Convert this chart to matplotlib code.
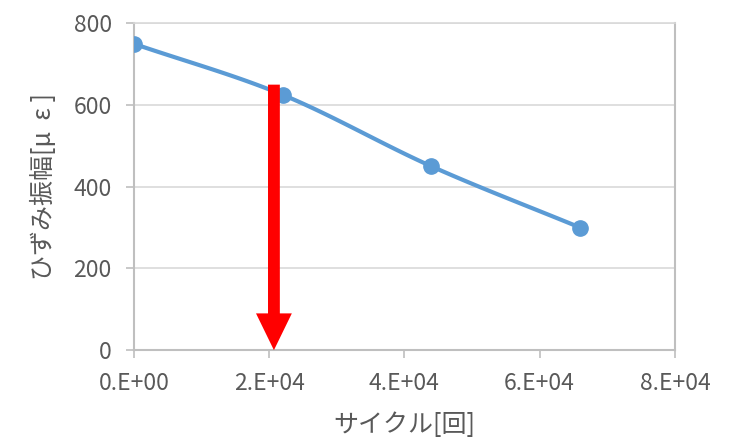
import matplotlib
matplotlib.use("Agg")
import matplotlib.pyplot as plt
import numpy as np
from matplotlib.ticker import FuncFormatter

plt.rcParams['font.family'] = ['Noto Sans CJK JP', 'DejaVu Sans']

# data
cycles = [0, 22000, 44000, 66000]
strain_amp = [750, 625, 450, 300]
arrow_x = 20700
arrow_top = 650

grey = '#595959'
blue = '#5B9BD5'


def smooth(xs, ys, n=30):
    # Catmull-Rom curve through the points (Excel style smoothed line)
    p = np.column_stack([xs, ys]).astype(float)
    p = np.vstack([p[0] - (p[1] - p[0]), p, p[-1] + (p[-1] - p[-2])])
    out = []
    t = np.linspace(0, 1, n)[:, None]
    for i in range(1, len(p) - 2):
        p0, p1, p2, p3 = p[i - 1], p[i], p[i + 1], p[i + 2]
        seg = 0.5 * ((2 * p1) + (-p0 + p2) * t + (2 * p0 - 5 * p1 + 4 * p2 - p3) * t**2
                     + (-p0 + 3 * p1 - 3 * p2 + p3) * t**3)
        out.append(seg)
    out = np.vstack(out)
    return out[:, 0], out[:, 1]


fig = plt.figure(figsize=(7.36, 4.41), dpi=100)
ax = fig.add_axes([0.182, 0.206, 0.735, 0.741])

sx, sy = smooth(cycles, strain_amp)
ax.plot(sx, sy, color=blue, lw=3, zorder=3)
ax.plot(cycles, strain_amp, 'o', color=blue, ms=11, zorder=4)

ax.arrow(arrow_x, arrow_top, 0, -arrow_top, width=1750, head_width=5300,
         head_length=90, length_includes_head=True, color='#FF0000', lw=0, zorder=5)

ax.set_xlim(0, 80000)
ax.set_ylim(0, 800)
ax.set_xticks(np.arange(0, 80001, 20000))
ax.set_yticks(np.arange(0, 801, 200))
ax.xaxis.set_major_formatter(FuncFormatter(lambda v, p: '{:#.0E}'.format(v)))

ax.grid(axis='y', color='#D9D9D9', lw=1.2)
ax.set_axisbelow(True)
for s in ax.spines.values():
    s.set_color('#BFBFBF')
    s.set_linewidth(1.5)
ax.spines['top'].set_color('#D9D9D9')
ax.spines['top'].set_linewidth(1.2)

ax.tick_params(axis='both', colors='#BFBFBF', labelcolor=grey, labelsize=16.5,
               length=6, width=1.2)
ax.tick_params(axis='y', pad=10)
ax.tick_params(axis='x', pad=10)

ax.set_xlabel('サイクル[回]', fontsize=18, color=grey, labelpad=12)
ax.set_ylabel('ひずみ振幅[μ  ε ]', fontsize=18, color=grey, labelpad=12)

fig.savefig('out.png', dpi=100)
